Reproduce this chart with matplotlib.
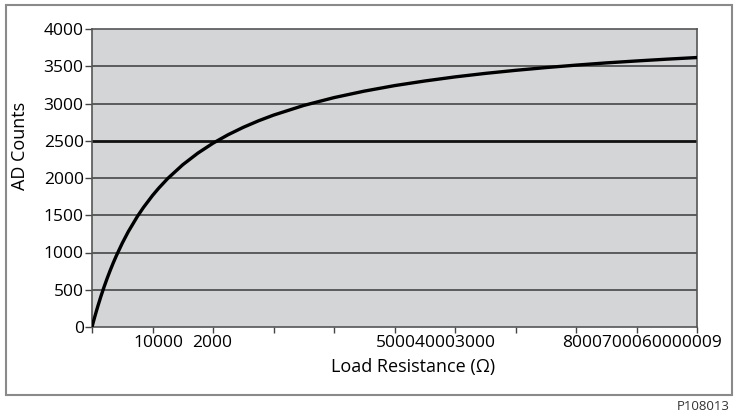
import matplotlib.pyplot as plt
from matplotlib.patches import Rectangle
import matplotlib.transforms as mtransforms

# load resistance (ohm) vs AD counts
resistance = [0, 25, 50, 75, 100, 150, 200, 250, 300, 350, 400, 500, 600,
              750, 850, 1000, 1100, 1250, 1500, 1750, 2000, 2250, 2500, 2750,
              3000, 3500, 4000, 4500, 5000, 5500, 6000, 6500, 7000, 7500,
              8000, 8500, 9000, 9500, 10000]
ad_counts = [0, 76, 149, 220, 288, 418, 539, 652, 758, 858, 952, 1125, 1280,
             1484, 1604, 1765, 1861, 1992, 2178, 2334, 2467, 2581, 2680, 2767,
             2844, 2974, 3079, 3166, 3240, 3302, 3357, 3404, 3445, 3482,
             3515, 3545, 3571, 3595, 3617]

y_ticks = [0, 500, 1000, 1500, 2000, 2500, 3000, 3500, 4000]
x_ticks = [0, 1000, 2000, 3000, 4000, 5000, 6000, 7000, 8000, 9000, 10000]
# the x labels in the source are overprinted, keep them as they appear
x_label_text = ["10000", "2000", "500040003000", "8000700060000009"]
x_label_at = [1090, 1985, 5690, 9090]

plt.rcParams['font.family'] = ['Open Sans', 'DejaVu Sans']
fig = plt.figure(figsize=(7.34, 4.12), dpi=100)

# outer frame
fig.patches.append(Rectangle((6 / 734, 1 - 395 / 412), 726 / 734, 390 / 412,
                             transform=fig.transFigure, fill=False,
                             edgecolor='#8a8a8a', linewidth=1.5))

ax = fig.add_axes([92 / 734, 1 - 327 / 412, 605 / 734, 298 / 412])
ax.set_facecolor('#d3d5d7')
ax.set_xlim(0, 10000)
ax.set_ylim(0, 4000)

for v in y_ticks[1:-1]:
    if v == 2500:
        ax.axhline(v, color='#111111', linewidth=2.0, zorder=1)
    else:
        ax.axhline(v, color='#3a3a3a', linewidth=1.1, zorder=1)

ax.plot(resistance, ad_counts, color='black', linewidth=2.4, zorder=3,
        solid_joinstyle='round')

for s in ax.spines.values():
    s.set_color('#555555')
    s.set_linewidth(1.2)

ax.set_yticks(y_ticks)
ax.set_yticklabels([str(v) for v in y_ticks], fontsize=12.5)
ax.set_xticks(x_ticks)
ax.set_xticklabels([''] * len(x_ticks))
ax.tick_params(axis='y', direction='out', length=5, width=1, pad=1,
               color='#444444')
ax.tick_params(axis='x', direction='out', length=4, width=1, color='#444444')

trans = mtransforms.blended_transform_factory(ax.transData, fig.transFigure)
for txt, xv in zip(x_label_text, x_label_at):
    ax.text(xv, 1 - 343 / 412, txt, transform=trans, ha='center',
            va='center', fontsize=12.5, clip_on=False)

fig.text(413 / 734, 1 - 367 / 412, 'Load Resistance (\u03a9)', ha='center',
         va='center', fontsize=13)
fig.text(20 / 734, 1 - 146 / 412, 'AD Counts', rotation=90, ha='center',
         va='center', fontsize=13)
fig.text(730 / 734, 1 - 406 / 412, 'P108013', ha='right', va='center',
         fontsize=9.5, color='#333333')

fig.savefig('out.png', dpi=100)
